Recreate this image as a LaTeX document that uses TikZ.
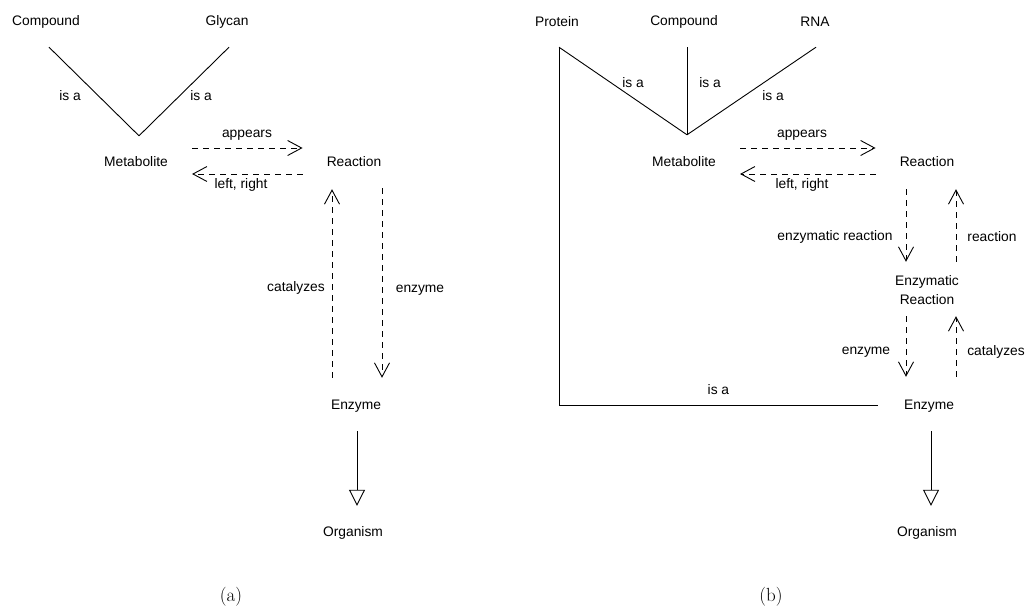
\documentclass[tikz,border=0pt]{standalone}
\usepackage{fontspec}
\setmainfont{Liberation Sans}
\newfontfamily\capfont{Latin Modern Roman}
\usetikzlibrary{arrows.meta}
\begin{document}
\begin{tikzpicture}[x=1pt,y=-1pt,
  every node/.style={font=\fontsize{13.8}{16}\selectfont, inner sep=0pt},
  cls/.style={minimum height=50pt, inner xsep=24pt, align=center},
  lbl/.style={},
  rel/.style={line width=0.9pt, dash pattern=on 6pt off 5pt,
    -{Straight Barb[length=14pt,width=15pt,line width=0.9pt]}},
  isa/.style={line width=0.9pt},
  part/.style={line width=0.9pt, -{Triangle[open,length=16pt,width=16pt,line width=0.9pt]}},
  subcap/.style={font=\capfont\fontsize{19}{22}\selectfont}]
\useasboundingbox (0,0) rectangle (1027,607);

% ---------- (a) ----------
\node[cls] (compA) at (46,22) {Compound};
\node[cls] (glyA) at (227,22) {Glycan};
\node[cls] (metA) at (136,162) {Metabolite};
\node[cls] (reacA) at (354,162) {Reaction};
\node[cls] (enzA) at (356,406) {Enzyme};
\node[cls] (orgA) at (353,533) {Organism};

\draw[isa] ([xshift=3pt]compA.south) -- ([xshift=3pt,yshift=1pt]metA.north);
\draw[isa] ([xshift=2pt]glyA.south) -- ([xshift=3pt,yshift=1pt]metA.north);
\node[lbl] (isaA1) at (70,96) {is a};
\node[lbl] (isaA2) at (201,96) {is a};

\draw[rel] ([yshift=14pt]metA.east) -- ([yshift=14pt]reacA.west);
\draw[rel] ([yshift=-12pt]reacA.west) -- ([yshift=-12pt]metA.east);
\node[lbl] (appA) at (247,135) {appears};
\node[lbl] (lrA) at (241,185) {left, right};

\draw[rel] ([xshift=-24pt,yshift=3pt]enzA.north) -- ([xshift=-22pt,yshift=-2pt]reacA.south);
\draw[rel] ([xshift=28pt,yshift=-1pt]reacA.south) -- ([xshift=26pt,yshift=3pt]enzA.north);
\node[lbl] (catA) at (296,288) {catalyzes};
\node[lbl] (enzlA) at (420,290) {enzyme};

\draw[part] ([xshift=1pt]enzA.south) -- ([xshift=4pt,yshift=2pt]orgA.north);

\node[subcap] (capA) at (231,597) {(a)};

% ---------- (b) ----------
\node[cls] (protB) at (557,22) {Protein};
\node[cls] (compB) at (684,22) {Compound};
\node[cls] (rnaB) at (815,22) {RNA};
\node[cls] (metB) at (684,162) {Metabolite};
\node[cls] (reacB) at (927,162) {Reaction};
\node[cls, minimum height=56pt] (ezrB) at (927,290) {Enzymatic\\[3pt]Reaction};
\node[cls] (enzB) at (929,406) {Enzyme};
\node[cls] (orgB) at (927,533) {Organism};

\draw[isa] ([xshift=2pt]protB.south) -- ([xshift=3pt,yshift=2pt]metB.north);
\draw[isa] ([xshift=3pt]compB.south) -- ([xshift=3pt,yshift=2pt]metB.north);
\draw[isa] ([xshift=1pt]rnaB.south) -- ([xshift=3pt,yshift=2pt]metB.north);
\draw[isa] ([xshift=2pt]protB.south) |- ([xshift=-2pt,yshift=1pt]enzB.west)
  node[lbl, pos=0.75, yshift=15pt] (isaB4) {is a};
\node[lbl] (isaB1) at (633,83) {is a};
\node[lbl] (isaB2) at (710,83) {is a};
\node[lbl] (isaB3) at (773,96) {is a};

\draw[rel] ([yshift=14pt]metB.east) -- ([yshift=14pt]reacB.west);
\draw[rel] ([yshift=-12pt]reacB.west) -- ([yshift=-12pt]metB.east);
\node[lbl] (appB) at (802,135) {appears};
\node[lbl] (lrB) at (802,185) {left, right};

\draw[rel] ([xshift=-21pt,yshift=-2pt]reacB.south) -- ([xshift=-21pt]ezrB.north);
\draw[rel] ([xshift=29pt]ezrB.north) -- ([xshift=29pt,yshift=-2pt]reacB.south);
\node[lbl] (ezrl) at (835,237) {enzymatic reaction};
\node[lbl] (rxnl) at (992,237) {reaction};

\draw[rel] ([xshift=-21pt,yshift=2pt]ezrB.south) -- ([xshift=-23pt,yshift=4pt]enzB.north);
\draw[rel] ([xshift=27pt,yshift=4pt]enzB.north) -- ([xshift=29pt,yshift=2pt]ezrB.south);
\node[lbl] (enzlB) at (866,352) {enzyme};
\node[lbl] (catB) at (996,352) {catalyzes};

\draw[part] ([xshift=2pt]enzB.south) -- ([xshift=4pt,yshift=2pt]orgB.north);

\node[subcap] (capB) at (771,597) {(b)};
\end{tikzpicture}
\end{document}
